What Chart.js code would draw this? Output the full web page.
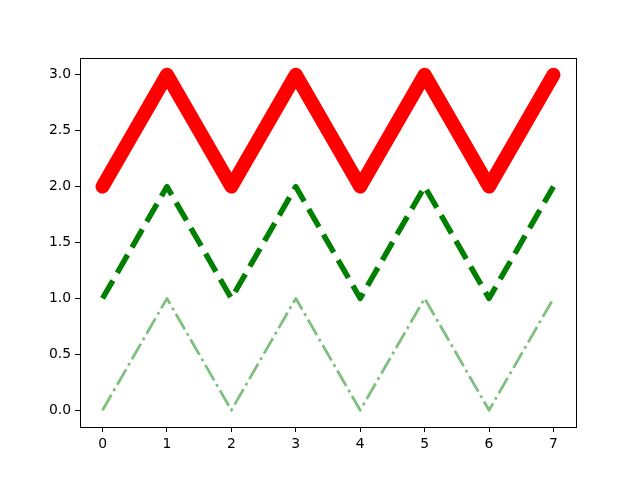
<!DOCTYPE html>
<html>
<head>
<meta charset="utf-8">
<script src="https://cdn.jsdelivr.net/npm/chart.js@4/dist/chart.umd.min.js"></script>
<style>
  html, body { margin: 0; padding: 0; background: #fff; }
  #wrap { width: 640px; height: 480px; }
</style>
</head>
<body>
<div id="wrap"><canvas id="grafico"></canvas></div>
<script>
const xValori = [0, 1, 2, 3, 4, 5, 6, 7];
const serieRossa = [2, 3, 2, 3, 2, 3, 2, 3];
const serieVerde = [1, 2, 1, 2, 1, 2, 1, 2];
const serieChiara = [0, 1, 0, 1, 0, 1, 0, 1];
const tickX = [0, 1, 2, 3, 4, 5, 6, 7];
const tickY = [0, 0.5, 1, 1.5, 2, 2.5, 3];

function punti(serie) {
    return serie.map((v, i) => ({ x: xValori[i], y: v }));
}

// cornice nera intorno all'area del grafico
const cornice = {
    id: 'cornice',
    afterDraw(chart) {
        const a = chart.chartArea;
        const ctx = chart.ctx;
        ctx.save();
        ctx.strokeStyle = '#000';
        ctx.lineWidth = 1;
        ctx.strokeRect(Math.round(a.left) + 0.5, Math.round(a.top) + 0.5,
            Math.round(a.right - a.left), Math.round(a.bottom - a.top));
        ctx.restore();
    }
};

const font = { family: 'DejaVu Sans', size: 13.9 };

const ctx = document.getElementById('grafico').getContext('2d');
new Chart(ctx, {
    type: 'line',
    data: {
        datasets: [
            {
                data: punti(serieRossa),
                borderColor: '#ff0000',
                borderWidth: 14,
                borderCapStyle: 'round',
                borderJoinStyle: 'round'
            },
            {
                data: punti(serieVerde),
                borderColor: '#008000',
                borderWidth: 5.5,
                borderDash: [20.6, 8.9],
                borderCapStyle: 'butt',
                borderJoinStyle: 'round'
            },
            {
                data: punti(serieChiara),
                borderColor: 'rgba(0,128,0,0.5)',
                borderWidth: 2.8,
                borderDash: [17.8, 4.4, 2.8, 4.4],
                borderCapStyle: 'butt',
                borderJoinStyle: 'round'
            }
        ]
    },
    options: {
        responsive: true,
        maintainAspectRatio: false,
        animation: false,
        layout: { padding: { top: 58, right: 64, left: 0, bottom: 0 } },
        elements: {
            point: { radius: 0, hoverRadius: 0 },
            line: { tension: 0, fill: false }
        },
        scales: {
            x: {
                type: 'linear',
                min: -0.35,
                max: 7.35,
                afterFit(scale) { scale.height = 53; },
                afterBuildTicks(scale) { scale.ticks = tickX.map(v => ({ value: v })); },
                border: { display: false },
                grid: { display: true, drawOnChartArea: false, drawTicks: true, tickLength: 5, color: '#000' },
                ticks: { color: '#000', font: font, padding: 4, maxRotation: 0, autoSkip: false,
                    callback: v => String(v) }
            },
            y: {
                type: 'linear',
                min: -0.15,
                max: 3.15,
                afterFit(scale) { scale.width = 80; },
                afterBuildTicks(scale) { scale.ticks = tickY.map(v => ({ value: v })); },
                border: { display: false },
                grid: { display: true, drawOnChartArea: false, drawTicks: true, tickLength: 5, color: '#000' },
                ticks: { color: '#000', font: font, padding: 4, autoSkip: false,
                    callback: v => v.toFixed(1) }
            }
        },
        plugins: {
            legend: { display: false },
            tooltip: { enabled: false }
        }
    },
    plugins: [cornice]
});
</script>
</body>
</html>
